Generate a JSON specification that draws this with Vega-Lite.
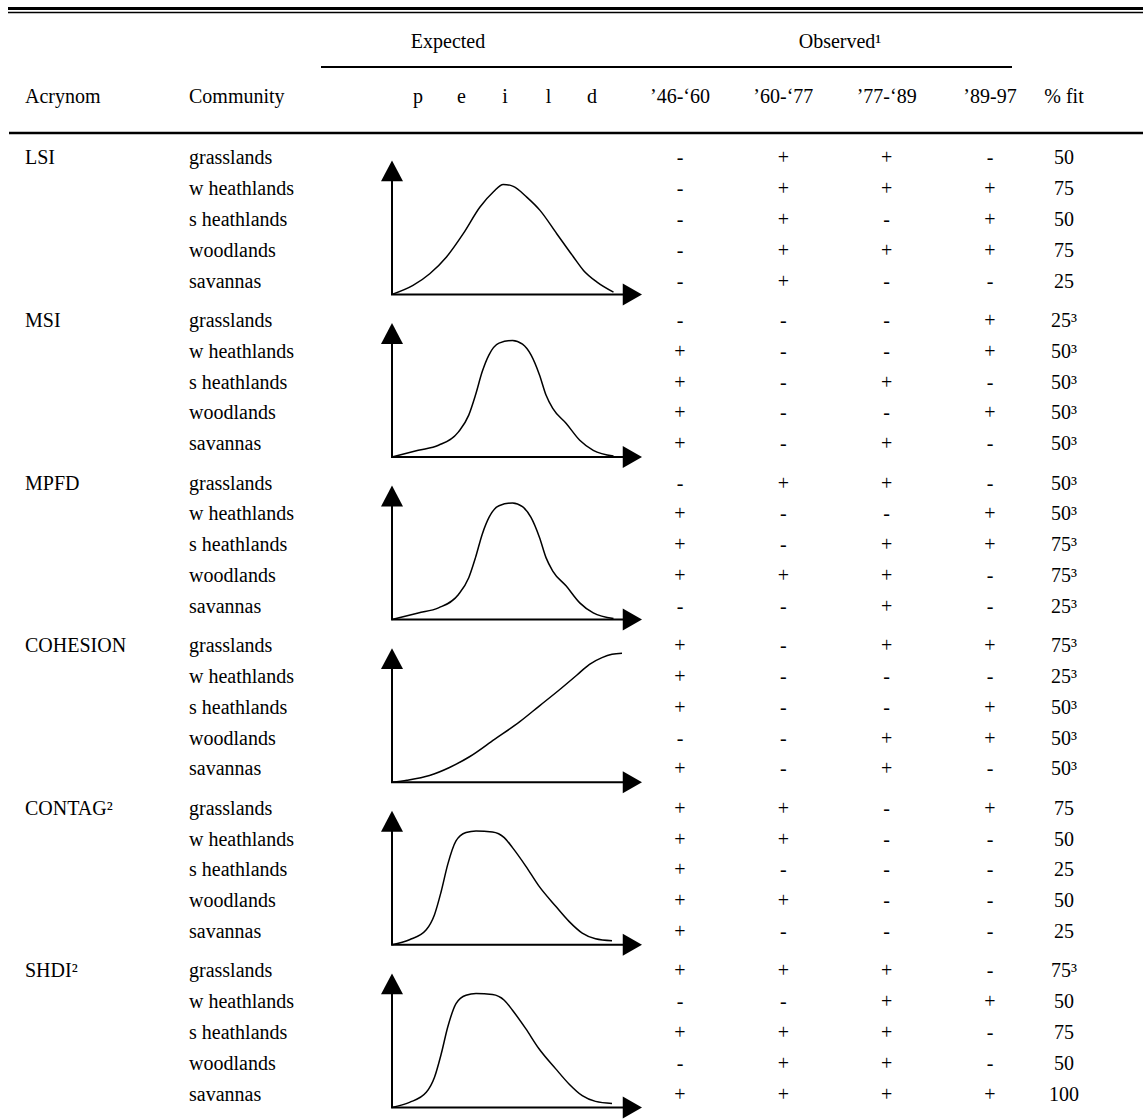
{
  "$schema": "https://vega.github.io/schema/vega-lite/v6.json",
  "padding": 0,
  "background": "white",
  "spacing": 0,
  "bounds": "flush",
  "config": {"view": {"stroke": null}, "text": {"font": "Liberation Serif", "fontSize": 20, "color": "black"}},
  "datasets": {
    "body": [
      {"kind":"row","group":"LSI","label":"LSI","community":"grasslands","p46":"-","p60":"+","p77":"+","p89":"-","fit":"50"},
      {"kind":"row","group":"LSI","community":"w heathlands","p46":"-","p60":"+","p77":"+","p89":"+","fit":"75"},
      {"kind":"row","group":"LSI","community":"s heathlands","p46":"-","p60":"+","p77":"-","p89":"+","fit":"50"},
      {"kind":"row","group":"LSI","community":"woodlands","p46":"-","p60":"+","p77":"+","p89":"+","fit":"75"},
      {"kind":"row","group":"LSI","community":"savannas","p46":"-","p60":"+","p77":"-","p89":"-","fit":"25"},
      {"kind":"row","group":"MSI","label":"MSI","community":"grasslands","p46":"-","p60":"-","p77":"-","p89":"+","fit":"25³"},
      {"kind":"row","group":"MSI","community":"w heathlands","p46":"+","p60":"-","p77":"-","p89":"+","fit":"50³"},
      {"kind":"row","group":"MSI","community":"s heathlands","p46":"+","p60":"-","p77":"+","p89":"-","fit":"50³"},
      {"kind":"row","group":"MSI","community":"woodlands","p46":"+","p60":"-","p77":"-","p89":"+","fit":"50³"},
      {"kind":"row","group":"MSI","community":"savannas","p46":"+","p60":"-","p77":"+","p89":"-","fit":"50³"},
      {"kind":"row","group":"MPFD","label":"MPFD","community":"grasslands","p46":"-","p60":"+","p77":"+","p89":"-","fit":"50³"},
      {"kind":"row","group":"MPFD","community":"w heathlands","p46":"+","p60":"-","p77":"-","p89":"+","fit":"50³"},
      {"kind":"row","group":"MPFD","community":"s heathlands","p46":"+","p60":"-","p77":"+","p89":"+","fit":"75³"},
      {"kind":"row","group":"MPFD","community":"woodlands","p46":"+","p60":"+","p77":"+","p89":"-","fit":"75³"},
      {"kind":"row","group":"MPFD","community":"savannas","p46":"-","p60":"-","p77":"+","p89":"-","fit":"25³"},
      {"kind":"row","group":"COHESION","label":"COHESION","community":"grasslands","p46":"+","p60":"-","p77":"+","p89":"+","fit":"75³"},
      {"kind":"row","group":"COHESION","community":"w heathlands","p46":"+","p60":"-","p77":"-","p89":"-","fit":"25³"},
      {"kind":"row","group":"COHESION","community":"s heathlands","p46":"+","p60":"-","p77":"-","p89":"+","fit":"50³"},
      {"kind":"row","group":"COHESION","community":"woodlands","p46":"-","p60":"-","p77":"+","p89":"+","fit":"50³"},
      {"kind":"row","group":"COHESION","community":"savannas","p46":"+","p60":"-","p77":"+","p89":"-","fit":"50³"},
      {"kind":"row","group":"CONTAG","label":"CONTAG²","community":"grasslands","p46":"+","p60":"+","p77":"-","p89":"+","fit":"75"},
      {"kind":"row","group":"CONTAG","community":"w heathlands","p46":"+","p60":"+","p77":"-","p89":"-","fit":"50"},
      {"kind":"row","group":"CONTAG","community":"s heathlands","p46":"+","p60":"-","p77":"-","p89":"-","fit":"25"},
      {"kind":"row","group":"CONTAG","community":"woodlands","p46":"+","p60":"+","p77":"-","p89":"-","fit":"50"},
      {"kind":"row","group":"CONTAG","community":"savannas","p46":"+","p60":"-","p77":"-","p89":"-","fit":"25"},
      {"kind":"row","group":"SHDI","label":"SHDI²","community":"grasslands","p46":"+","p60":"+","p77":"+","p89":"-","fit":"75³"},
      {"kind":"row","group":"SHDI","community":"w heathlands","p46":"-","p60":"-","p77":"+","p89":"+","fit":"50"},
      {"kind":"row","group":"SHDI","community":"s heathlands","p46":"+","p60":"+","p77":"+","p89":"-","fit":"75"},
      {"kind":"row","group":"SHDI","community":"woodlands","p46":"-","p60":"+","p77":"+","p89":"-","fit":"50"},
      {"kind":"row","group":"SHDI","community":"savannas","p46":"+","p60":"+","p77":"+","p89":"+","fit":"100"},

      {"kind":"curve","group":"LSI","cx":0,"cy":0},{"kind":"curve","group":"LSI","cx":8.4,"cy":6.7},{"kind":"curve","group":"LSI","cx":15.1,"cy":15.4},{"kind":"curve","group":"LSI","cx":21.8,"cy":27.9},{"kind":"curve","group":"LSI","cx":28.5,"cy":45.3},{"kind":"curve","group":"LSI","cx":35.2,"cy":65.2},{"kind":"curve","group":"LSI","cx":40.5,"cy":76.4},{"kind":"curve","group":"LSI","cx":44.5,"cy":82.1},{"kind":"curve","group":"LSI","cx":48.5,"cy":80.6},{"kind":"curve","group":"LSI","cx":53.9,"cy":72.6},{"kind":"curve","group":"LSI","cx":59.2,"cy":62.7},{"kind":"curve","group":"LSI","cx":65.9,"cy":45.3},{"kind":"curve","group":"LSI","cx":72.6,"cy":27.9},{"kind":"curve","group":"LSI","cx":76.6,"cy":17.9},{"kind":"curve","group":"LSI","cx":82.0,"cy":9.2},{"kind":"curve","group":"LSI","cx":88.6,"cy":1.7},

      {"kind":"curve","group":"MSI","cx":0,"cy":0},{"kind":"curve","group":"MSI","cx":10.5,"cy":5},{"kind":"curve","group":"MSI","cx":18.6,"cy":8.75},{"kind":"curve","group":"MSI","cx":26.6,"cy":18.75},{"kind":"curve","group":"MSI","cx":30.7,"cy":31.25},{"kind":"curve","group":"MSI","cx":33.4,"cy":46.25},{"kind":"curve","group":"MSI","cx":36.1,"cy":63.75},{"kind":"curve","group":"MSI","cx":38.8,"cy":76.25},{"kind":"curve","group":"MSI","cx":42.8,"cy":85},{"kind":"curve","group":"MSI","cx":48.2,"cy":87},{"kind":"curve","group":"MSI","cx":52.2,"cy":84.25},{"kind":"curve","group":"MSI","cx":55.6,"cy":76.25},{"kind":"curve","group":"MSI","cx":59,"cy":61.25},{"kind":"curve","group":"MSI","cx":61.6,"cy":46.25},{"kind":"curve","group":"MSI","cx":64.3,"cy":36.25},{"kind":"curve","group":"MSI","cx":69.7,"cy":25},{"kind":"curve","group":"MSI","cx":75.1,"cy":12.5},{"kind":"curve","group":"MSI","cx":80.5,"cy":5},{"kind":"curve","group":"MSI","cx":88.6,"cy":0.75},

      {"kind":"curve","group":"MPFD","cx":0,"cy":0},{"kind":"curve","group":"MPFD","cx":10.5,"cy":5},{"kind":"curve","group":"MPFD","cx":18.6,"cy":8.75},{"kind":"curve","group":"MPFD","cx":26.6,"cy":18.75},{"kind":"curve","group":"MPFD","cx":30.7,"cy":31.25},{"kind":"curve","group":"MPFD","cx":33.4,"cy":46.25},{"kind":"curve","group":"MPFD","cx":36.1,"cy":63.75},{"kind":"curve","group":"MPFD","cx":38.8,"cy":76.25},{"kind":"curve","group":"MPFD","cx":42.8,"cy":85},{"kind":"curve","group":"MPFD","cx":48.2,"cy":87},{"kind":"curve","group":"MPFD","cx":52.2,"cy":84.25},{"kind":"curve","group":"MPFD","cx":55.6,"cy":76.25},{"kind":"curve","group":"MPFD","cx":59,"cy":61.25},{"kind":"curve","group":"MPFD","cx":61.6,"cy":46.25},{"kind":"curve","group":"MPFD","cx":64.3,"cy":36.25},{"kind":"curve","group":"MPFD","cx":69.7,"cy":25},{"kind":"curve","group":"MPFD","cx":75.1,"cy":12.5},{"kind":"curve","group":"MPFD","cx":80.5,"cy":5},{"kind":"curve","group":"MPFD","cx":88.6,"cy":0.75},

      {"kind":"curve","group":"COHESION","cx":0,"cy":0},{"kind":"curve","group":"COHESION","cx":6,"cy":1.5},{"kind":"curve","group":"COHESION","cx":15,"cy":5},{"kind":"curve","group":"COHESION","cx":23,"cy":11},{"kind":"curve","group":"COHESION","cx":31,"cy":19},{"kind":"curve","group":"COHESION","cx":41,"cy":32},{"kind":"curve","group":"COHESION","cx":51,"cy":45},{"kind":"curve","group":"COHESION","cx":59,"cy":57},{"kind":"curve","group":"COHESION","cx":67,"cy":69},{"kind":"curve","group":"COHESION","cx":74,"cy":80},{"kind":"curve","group":"COHESION","cx":79,"cy":88},{"kind":"curve","group":"COHESION","cx":84,"cy":93},{"kind":"curve","group":"COHESION","cx":88,"cy":95.5},{"kind":"curve","group":"COHESION","cx":92,"cy":96.3},

      {"kind":"curve","group":"CONTAG","cx":0,"cy":0},{"kind":"curve","group":"CONTAG","cx":7,"cy":3.75},{"kind":"curve","group":"CONTAG","cx":13.7,"cy":11.25},{"kind":"curve","group":"CONTAG","cx":17,"cy":22.5},{"kind":"curve","group":"CONTAG","cx":19.7,"cy":40},{"kind":"curve","group":"CONTAG","cx":22.3,"cy":60},{"kind":"curve","group":"CONTAG","cx":25.6,"cy":77.5},{"kind":"curve","group":"CONTAG","cx":29.6,"cy":83.75},{"kind":"curve","group":"CONTAG","cx":33.6,"cy":85},{"kind":"curve","group":"CONTAG","cx":40.2,"cy":84.25},{"kind":"curve","group":"CONTAG","cx":44.9,"cy":80},{"kind":"curve","group":"CONTAG","cx":48.2,"cy":72.5},{"kind":"curve","group":"CONTAG","cx":53.5,"cy":58.75},{"kind":"curve","group":"CONTAG","cx":58.8,"cy":43.75},{"kind":"curve","group":"CONTAG","cx":65.5,"cy":28.75},{"kind":"curve","group":"CONTAG","cx":70.8,"cy":17.5},{"kind":"curve","group":"CONTAG","cx":76.1,"cy":8.75},{"kind":"curve","group":"CONTAG","cx":81.4,"cy":4.5},{"kind":"curve","group":"CONTAG","cx":88,"cy":3},

      {"kind":"curve","group":"SHDI","cx":0,"cy":0},{"kind":"curve","group":"SHDI","cx":7,"cy":3.75},{"kind":"curve","group":"SHDI","cx":13.7,"cy":11.25},{"kind":"curve","group":"SHDI","cx":17,"cy":22.5},{"kind":"curve","group":"SHDI","cx":19.7,"cy":40},{"kind":"curve","group":"SHDI","cx":22.3,"cy":60},{"kind":"curve","group":"SHDI","cx":25.6,"cy":77.5},{"kind":"curve","group":"SHDI","cx":29.6,"cy":83.75},{"kind":"curve","group":"SHDI","cx":33.6,"cy":85},{"kind":"curve","group":"SHDI","cx":40.2,"cy":84.25},{"kind":"curve","group":"SHDI","cx":44.9,"cy":80},{"kind":"curve","group":"SHDI","cx":48.2,"cy":72.5},{"kind":"curve","group":"SHDI","cx":53.5,"cy":58.75},{"kind":"curve","group":"SHDI","cx":58.8,"cy":43.75},{"kind":"curve","group":"SHDI","cx":65.5,"cy":28.75},{"kind":"curve","group":"SHDI","cx":70.8,"cy":17.5},{"kind":"curve","group":"SHDI","cx":76.1,"cy":8.75},{"kind":"curve","group":"SHDI","cx":81.4,"cy":4.5},{"kind":"curve","group":"SHDI","cx":88,"cy":3},

      {"kind":"axis","group":"LSI","cx":0,"cy":93,"o":0},{"kind":"axis","group":"LSI","cx":0,"cy":0,"o":1},{"kind":"axis","group":"LSI","cx":94,"cy":0,"o":2},
      {"kind":"axis","group":"MSI","cx":0,"cy":93,"o":0},{"kind":"axis","group":"MSI","cx":0,"cy":0,"o":1},{"kind":"axis","group":"MSI","cx":94,"cy":0,"o":2},
      {"kind":"axis","group":"MPFD","cx":0,"cy":93,"o":0},{"kind":"axis","group":"MPFD","cx":0,"cy":0,"o":1},{"kind":"axis","group":"MPFD","cx":94,"cy":0,"o":2},
      {"kind":"axis","group":"COHESION","cx":0,"cy":93,"o":0},{"kind":"axis","group":"COHESION","cx":0,"cy":0,"o":1},{"kind":"axis","group":"COHESION","cx":94,"cy":0,"o":2},
      {"kind":"axis","group":"CONTAG","cx":0,"cy":93,"o":0},{"kind":"axis","group":"CONTAG","cx":0,"cy":0,"o":1},{"kind":"axis","group":"CONTAG","cx":94,"cy":0,"o":2},
      {"kind":"axis","group":"SHDI","cx":0,"cy":93,"o":0},{"kind":"axis","group":"SHDI","cx":0,"cy":0,"o":1},{"kind":"axis","group":"SHDI","cx":94,"cy":0,"o":2},

      {"kind":"tip","group":"LSI","cx":0,"cy":100,"dir":"up"},{"kind":"tip","group":"LSI","cx":100,"cy":0,"dir":"right"},
      {"kind":"tip","group":"MSI","cx":0,"cy":100,"dir":"up"},{"kind":"tip","group":"MSI","cx":100,"cy":0,"dir":"right"},
      {"kind":"tip","group":"MPFD","cx":0,"cy":100,"dir":"up"},{"kind":"tip","group":"MPFD","cx":100,"cy":0,"dir":"right"},
      {"kind":"tip","group":"COHESION","cx":0,"cy":100,"dir":"up"},{"kind":"tip","group":"COHESION","cx":100,"cy":0,"dir":"right"},
      {"kind":"tip","group":"CONTAG","cx":0,"cy":100,"dir":"up"},{"kind":"tip","group":"CONTAG","cx":100,"cy":0,"dir":"right"},
      {"kind":"tip","group":"SHDI","cx":0,"cy":100,"dir":"up"},{"kind":"tip","group":"SHDI","cx":100,"cy":0,"dir":"right"}
    ]
  },
  "vconcat": [
    {
      "width": 1143,
      "height": 143,
      "layer": [
        {"data": {"values": [{}]}, "mark": {"type": "rule", "strokeWidth": 3, "color": "black"},
         "encoding": {"x": {"value": 8}, "x2": {"value": 1143}, "y": {"value": 8.5}}},
        {"data": {"values": [{}]}, "mark": {"type": "rule", "strokeWidth": 1.5, "color": "black"},
         "encoding": {"x": {"value": 8}, "x2": {"value": 1143}, "y": {"value": 12.5}}},
        {"data": {"values": [{}]}, "mark": {"type": "rule", "strokeWidth": 2, "color": "black"},
         "encoding": {"x": {"value": 321}, "x2": {"value": 1012}, "y": {"value": 67}}},
        {"data": {"values": [{}]}, "mark": {"type": "rule", "strokeWidth": 2.5, "color": "black"},
         "encoding": {"x": {"value": 9}, "x2": {"value": 1143}, "y": {"value": 133}}},
        {"data": {"values": [{"t": "Expected"}, {"t": "Observed¹"}]},
         "mark": {"type": "text", "align": "center", "baseline": "alphabetic"},
         "encoding": {"x": {"field": "t", "type": "nominal", "scale": {"type": "point", "domain": ["Expected", "Observed¹"], "range": [448, 840], "padding": 0}, "axis": null},
                      "y": {"value": 48}, "text": {"field": "t"}}},
        {"data": {"values": [{"t": "Acrynom"}, {"t": "Community"}]},
         "mark": {"type": "text", "align": "left", "baseline": "alphabetic"},
         "encoding": {"x": {"field": "t", "type": "nominal", "scale": {"type": "point", "domain": ["Acrynom", "Community"], "range": [25, 189], "padding": 0}, "axis": null},
                      "y": {"value": 103}, "text": {"field": "t"}}},
        {"data": {"values": [{"t": "p"}, {"t": "e"}, {"t": "i"}, {"t": "l"}, {"t": "d"}]},
         "mark": {"type": "text", "align": "center", "baseline": "alphabetic"},
         "encoding": {"x": {"field": "t", "type": "nominal", "scale": {"type": "point", "domain": ["p", "e", "i", "l", "d"], "range": [418, 592], "padding": 0}, "axis": null},
                      "y": {"value": 103}, "text": {"field": "t"}}},
        {"data": {"values": [{"t": "’46-‘60"}, {"t": "’60-‘77"}, {"t": "’77-‘89"}, {"t": "’89-97"}]},
         "mark": {"type": "text", "align": "center", "baseline": "alphabetic"},
         "encoding": {"x": {"field": "t", "type": "nominal", "scale": {"type": "point", "domain": ["’46-‘60", "’60-‘77", "’77-‘89", "’89-97"], "range": [680, 990], "padding": 0}, "axis": null},
                      "y": {"value": 103}, "text": {"field": "t"}}},
        {"data": {"values": [{"t": "% fit"}]},
         "mark": {"type": "text", "align": "center", "baseline": "alphabetic"},
         "encoding": {"x": {"field": "t", "type": "nominal", "scale": {"type": "point", "domain": ["% fit"], "range": [1054, 1074], "padding": 0}, "axis": null},
                      "y": {"value": 103}, "text": {"field": "t"}}}
      ],
      "resolve": {"scale": {"x": "independent", "y": "independent"}}
    },
    {
      "data": {"name": "body"},
      "bounds": "flush",
      "spacing": {"row": 8.6},
      "facet": {"row": {"field": "group", "type": "nominal", "sort": ["LSI", "MSI", "MPFD", "COHESION", "CONTAG", "SHDI"], "header": null}},
      "spec": {
        "width": 1143,
        "height": 154,
        "layer": [
          {"transform": [{"filter": "datum.kind === 'row' && datum.community === 'grasslands'"}],
           "mark": {"type": "text", "align": "left", "baseline": "middle"},
           "encoding": {"x": {"datum": "Acrynom", "type": "nominal", "scale": {"type": "point", "domain": ["Acrynom", "Community"], "range": [25, 189], "padding": 0}, "axis": null},
                        "y": {"field": "community", "type": "nominal", "scale": {"type": "point", "domain": ["grasslands", "w heathlands", "s heathlands", "woodlands", "savannas"], "padding": 0.5}, "axis": null},
                        "text": {"field": "label"}}},
          {"transform": [{"filter": "datum.kind === 'row'"}],
           "mark": {"type": "text", "align": "left", "baseline": "middle"},
           "encoding": {"x": {"datum": "Community", "type": "nominal", "scale": {"type": "point", "domain": ["Acrynom", "Community"], "range": [25, 189], "padding": 0}, "axis": null},
                        "y": {"field": "community", "type": "nominal", "scale": {"type": "point", "domain": ["grasslands", "w heathlands", "s heathlands", "woodlands", "savannas"], "padding": 0.5}, "axis": null},
                        "text": {"field": "community"}}},
          {"transform": [{"filter": "datum.kind === 'row'"}, {"fold": ["p46", "p60", "p77", "p89"], "as": ["period", "sign"]}],
           "mark": {"type": "text", "align": "center", "baseline": "middle"},
           "encoding": {"x": {"field": "period", "type": "nominal", "scale": {"type": "point", "domain": ["p46", "p60", "p77", "p89"], "range": [680, 990], "padding": 0}, "axis": null},
                        "y": {"field": "community", "type": "nominal", "scale": {"type": "point", "domain": ["grasslands", "w heathlands", "s heathlands", "woodlands", "savannas"], "padding": 0.5}, "axis": null},
                        "text": {"field": "sign"}}},
          {"transform": [{"filter": "datum.kind === 'row'"}],
           "mark": {"type": "text", "align": "center", "baseline": "middle"},
           "encoding": {"x": {"datum": "% fit", "type": "nominal", "scale": {"type": "point", "domain": ["% fit"], "range": [1054, 1074], "padding": 0}, "axis": null},
                        "y": {"field": "community", "type": "nominal", "scale": {"type": "point", "domain": ["grasslands", "w heathlands", "s heathlands", "woodlands", "savannas"], "padding": 0.5}, "axis": null},
                        "text": {"field": "fit"}}},
          {"transform": [{"filter": "datum.kind === 'curve'"}],
           "mark": {"type": "line", "interpolate": "monotone", "strokeWidth": 1.5, "color": "black", "clip": false},
           "encoding": {"x": {"field": "cx", "type": "quantitative", "scale": {"domain": [-156.8, 300.4], "nice": false, "zero": false}, "axis": null},
                        "y": {"field": "cy", "type": "quantitative", "scale": {"domain": [-1.94, 112.99], "nice": false, "zero": false}, "axis": null}}},
          {"transform": [{"filter": "datum.kind === 'axis'"}],
           "mark": {"type": "line", "strokeWidth": 2, "color": "black", "strokeCap": "butt", "clip": false},
           "encoding": {"x": {"field": "cx", "type": "quantitative", "scale": {"domain": [-156.8, 300.4], "nice": false, "zero": false}, "axis": null},
                        "y": {"field": "cy", "type": "quantitative", "scale": {"domain": [-1.94, 112.99], "nice": false, "zero": false}, "axis": null},
                        "order": {"field": "o"}}},
          {"transform": [{"filter": "datum.kind === 'tip'"}],
           "mark": {"type": "point", "filled": true, "color": "black", "opacity": 1, "size": 484, "strokeWidth": 0, "clip": false},
           "encoding": {"x": {"field": "cx", "type": "quantitative", "scale": {"domain": [-156.8, 300.4], "nice": false, "zero": false}, "axis": null},
                        "y": {"field": "cy", "type": "quantitative", "scale": {"domain": [-1.94, 112.99], "nice": false, "zero": false}, "axis": null},
                        "shape": {"field": "dir", "type": "nominal", "scale": {"domain": ["up", "right"], "range": ["M0,0L1,1.9L-1,1.9Z", "M0,0L-1.75,-1L-1.75,1Z"]}, "legend": null}}}
        ],
        "resolve": {"scale": {"x": "independent", "y": "independent"}}
      }
    }
  ]
}
